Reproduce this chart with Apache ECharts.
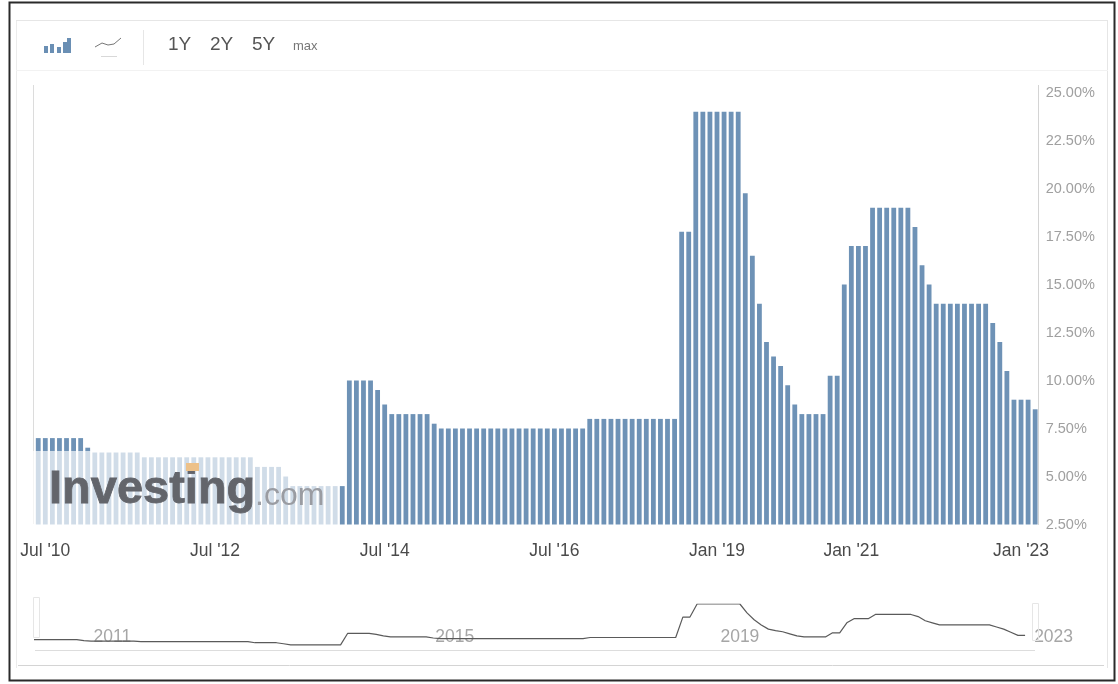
<!DOCTYPE html>
<html>
<head>
<meta charset="utf-8">
<style>
  html, body { margin: 0; padding: 0; background: #fff; }
  #chart { width: 1118px; height: 684px; }
</style>
<script src="https://cdn.jsdelivr.net/npm/echarts@6/dist/echarts.min.js"></script>
</head>
<body>
<div id="chart"></div>
<script>
// Policy rate readings, one bar per release, grouped by period.
const ratesEarly = [7, 7, 7, 7, 7, 7, 7, 6.5, 6.25, 6.25, 6.25, 6.25, 6.25, 6.25, 6.25,
  6, 6, 6, 6, 6, 6, 6, 6, 6, 6, 6, 6, 6, 6, 6, 6,
  5.5, 5.5, 5.5, 5.5, 5, 4.5, 4.5, 4.5, 4.5, 4.5, 4.5, 4.5, 4.5];
const ratesMiddle = [10, 10, 10, 10, 9.5, 8.75, 8.25, 8.25, 8.25, 8.25, 8.25, 8.25, 7.75,
  7.5, 7.5, 7.5, 7.5, 7.5, 7.5, 7.5, 7.5, 7.5, 7.5, 7.5, 7.5, 7.5, 7.5, 7.5, 7.5, 7.5, 7.5, 7.5, 7.5, 7.5,
  8, 8, 8, 8, 8, 8, 8, 8, 8, 8, 8, 8, 8];
const ratesCrisis = [17.75, 17.75, 24, 24, 24, 24, 24, 24, 24, 19.75, 16.5, 14, 12, 11.25, 10.75, 9.75, 8.75,
  8.25, 8.25, 8.25, 8.25];
const ratesRecent = [10.25, 10.25, 15, 17, 17, 17, 19, 19, 19, 19, 19, 19, 18, 16, 15,
  14, 14, 14, 14, 14, 14, 14, 14, 13, 12, 10.5, 9, 9, 9, 8.5];
const rates = [...ratesEarly, ...ratesMiddle, ...ratesCrisis, ...ratesRecent];

// Date captions and the bars they sit under.
const dateTicks = [1, 25, 49, 73, 96, 115, 139];
const dateLabels = ["Jul '10", "Jul '12", "Jul '14", "Jul '16", "Jan '19", "Jan '21", "Jan '23"];

// Year captions along the range selector.
const yearTicks = [11, 59, 99, 143];
const yearLabels = ['2011', '2015', '2019', '2023'];

const rangeButtons = ['1Y', '2Y', '5Y', 'max'];

const categories = rates.map((_, i) => {
  const at = dateTicks.indexOf(i);
  return at >= 0 ? dateLabels[at] : '';
});
const navCategories = Array.from({ length: 144 }, (_, i) => {
  const at = yearTicks.indexOf(i);
  return at >= 0 ? yearLabels[at] : '';
});

const sans = '"Liberation Sans", Arial, sans-serif';
const barBlue = '#6e92b6';
const hairline = '#dcdcdc';

function hLine(x1, x2, y, color, width) {
  return { type: 'line', silent: true, z: 50,
    shape: { x1, y1: y, x2, y2: y }, style: { stroke: color, lineWidth: width || 1 } };
}
function vLine(x, y1, y2, color, width) {
  return { type: 'line', silent: true, z: 50,
    shape: { x1: x, y1, x2: x, y2 }, style: { stroke: color, lineWidth: width || 1 } };
}
function toolbarBar(x, top, h, color) {
  return { type: 'rect', silent: true, z: 50, shape: { x, y: top, width: 4, height: h }, style: { fill: color } };
}

const chart = echarts.init(document.getElementById('chart'), null, { renderer: 'canvas' });

chart.setOption({
  animation: false,
  backgroundColor: '#ffffff',
  grid: [
    { left: 34.7, right: 79.3, top: 92.5, bottom: 159.5 },
    { left: 34, right: 64.4, top: 604, bottom: 35 }
  ],
  xAxis: [
    {
      type: 'category', gridIndex: 0, data: categories,
      axisLine: { show: false }, axisTick: { show: false },
      axisLabel: {
        interval: (i) => dateTicks.includes(i), color: '#4a4a4a', fontFamily: sans,
        fontSize: 17.5, margin: 18, hideOverlap: false, showMinLabel: true, showMaxLabel: true
      }
    },
    {
      type: 'category', gridIndex: 1, data: navCategories, boundaryGap: false,
      axisLine: { show: false }, axisTick: { show: false },
      axisLabel: {
        inside: true, interval: (i) => yearTicks.includes(i), color: '#a6a6a6',
        fontFamily: sans, fontSize: 17.5, margin: 3, hideOverlap: false,
        showMinLabel: true, showMaxLabel: true
      }
    }
  ],
  yAxis: [
    {
      type: 'value', gridIndex: 0, position: 'right', min: 2.5, max: 25, interval: 2.5,
      splitLine: { show: false }, axisTick: { show: false },
      axisLine: { show: true, lineStyle: { color: '#d4d4d4' } },
      axisLabel: {
        color: '#a0a0a0', fontFamily: sans, fontSize: 14.5, margin: 7,
        formatter: (v) => v.toFixed(2) + '%'
      }
    },
    {
      type: 'value', gridIndex: 1, min: 2.5, max: 24,
      show: false, splitLine: { show: false }
    }
  ],
  series: [
    {
      type: 'bar', xAxisIndex: 0, yAxisIndex: 0, data: rates, barWidth: 4.8,
      itemStyle: { color: barBlue }, silent: true
    },
    {
      type: 'line', xAxisIndex: 1, yAxisIndex: 1, data: rates.slice(0, 140),
      showSymbol: false, silent: true, lineStyle: { color: '#5a5a5a', width: 1.2 }
    }
  ],
  graphic: [
    // Page frame and panel rules
    { type: 'rect', silent: true, z: 40,
      shape: { x: 9.5, y: 2.5, width: 1105, height: 678 },
      style: { fill: 'none', stroke: '#2a2a2a', lineWidth: 2 } },
    vLine(16.5, 20, 668, '#ececec'),
    vLine(1107.5, 20, 668, '#e6e6e6'),
    hLine(16, 1108, 20.5, '#e6e6e6'),
    hLine(16, 1108, 70.5, '#f2f2f2'),
    hLine(18, 1104, 665.5, '#d4d4d4'),
    vLine(33.5, 85, 524, hairline),
    vLine(1038.5, 85, 93, '#d4d4d4'),
    vLine(143.5, 30, 65, '#e6e6e6'),

    // Chart type switches
    toolbarBar(44, 46, 7, '#6a8fb4'),
    toolbarBar(50, 44, 9, '#6a8fb4'),
    toolbarBar(57, 47, 6, '#6a8fb4'),
    toolbarBar(63, 42, 11, '#6a8fb4'),
    toolbarBar(67, 38, 15, '#6a8fb4'),
    { type: 'polyline', silent: true, z: 50,
      shape: { points: [[95, 47], [102, 43], [108, 45], [114, 44], [121, 38]] },
      style: { stroke: '#777', fill: 'none', lineWidth: 1 } },
    hLine(101, 117, 56.5, '#d8d8d8'),

    // Range buttons
    { type: 'text', silent: true, z: 50, x: 168, y: 45,
      style: { text: rangeButtons[0], fill: '#555', font: '19px ' + sans, verticalAlign: 'middle' } },
    { type: 'text', silent: true, z: 50, x: 210, y: 45,
      style: { text: rangeButtons[1], fill: '#555', font: '19px ' + sans, verticalAlign: 'middle' } },
    { type: 'text', silent: true, z: 50, x: 252, y: 45,
      style: { text: rangeButtons[2], fill: '#555', font: '19px ' + sans, verticalAlign: 'middle' } },
    { type: 'text', silent: true, z: 50, x: 293, y: 46,
      style: { text: rangeButtons[3], fill: '#777', font: '13px ' + sans, verticalAlign: 'middle' } },

    // Wash and wordmark over the oldest bars
    { type: 'rect', silent: true, z: 60,
      shape: { x: 33, y: 451, width: 306, height: 74 },
      style: { fill: 'rgba(255,255,255,0.68)' } },
    { type: 'text', silent: true, z: 61, x: 49, y: 490,
      style: { text: 'Investing', fill: '#63656b', stroke: '#63656b', lineWidth: 0.8,
        font: 'bold 47px ' + sans, verticalAlign: 'middle' } },
    { type: 'text', silent: true, z: 61, x: 255, y: 496,
      style: { text: '.com', fill: '#9a9ca2', font: '32px ' + sans, verticalAlign: 'middle' } },
    { type: 'rect', silent: true, z: 62,
      shape: { x: 186, y: 463, width: 13, height: 8 },
      style: { fill: '#edc189' } },

    // Range selector frame and grips
    hLine(35, 1035, 650.5, '#dddddd'),
    { type: 'rect', silent: true, z: 50, shape: { x: 33.5, y: 597.5, width: 6, height: 40 },
      style: { fill: 'none', stroke: '#e6e6e6', lineWidth: 1 } },
    { type: 'rect', silent: true, z: 50, shape: { x: 1032.5, y: 603.5, width: 6, height: 37 },
      style: { fill: 'none', stroke: '#e6e6e6', lineWidth: 1 } }
  ]
});
</script>
</body>
</html>
